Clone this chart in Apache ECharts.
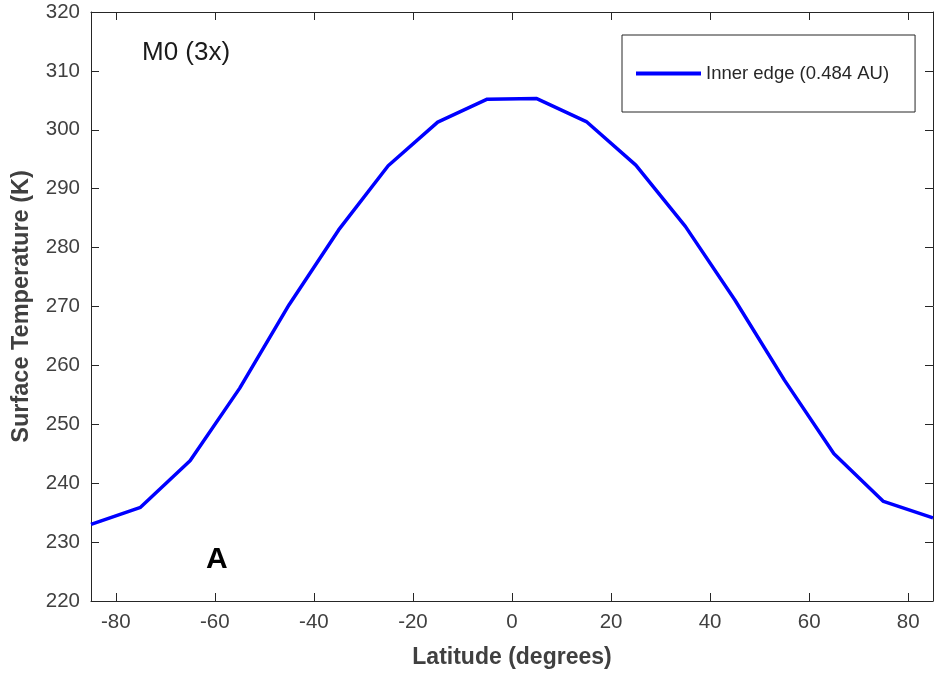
<!DOCTYPE html>
<html>
<head>
<meta charset="utf-8">
<script src="https://cdn.jsdelivr.net/npm/echarts@6/dist/echarts.min.js"></script>
<style>html,body{margin:0;padding:0;background:#fff;}#c{width:935px;height:676px;}</style>
</head>
<body>
<div id="c"></div>
<script>
const latitudes = [-85, -75, -65, -55, -45, -35, -25, -15, -5, 5, 15, 25, 35, 45, 55, 65, 75, 85];
const temperatures = [233.0, 235.9, 243.8, 256.1, 270.3, 283.0, 293.9, 301.3, 305.2, 305.3, 301.4, 294.0, 283.6, 271.1, 257.5, 245.0, 236.9, 234.1];
const xTickValues = [-80, -60, -40, -20, 0, 20, 40, 60, 80];
const seriesName = 'Inner edge (0.484 AU)';

const chart = echarts.init(document.getElementById('c'), null, {renderer: 'canvas'});
const font = 'Liberation Sans, Arial, sans-serif';
const axisColor = '#262626';
const labelColor = '#404040';

const data = latitudes.map((x, i) => [x, temperatures[i]]);

chart.setOption({
  animation: false,
  backgroundColor: '#fff',
  grid: {left: 91, right: 2, top: 12, bottom: 75, containLabel: false},
  xAxis: [{
    type: 'value', min: -85, max: 85, position: 'bottom',
    name: 'Latitude (degrees)', nameLocation: 'middle', nameGap: 45,
    nameTextStyle: {fontFamily: font, fontSize: 23, fontWeight: 'bold', color: labelColor},
    axisLine: {show: true, onZero: false, lineStyle: {color: axisColor, width: 1}},
    axisTick: {show: true, inside: true, length: 8, customValues: xTickValues, lineStyle: {color: axisColor}},
    axisLabel: {customValues: xTickValues, fontFamily: font, fontSize: 20.5, color: labelColor, margin: 11},
    splitLine: {show: false}
  }, {
    type: 'value', min: -85, max: 85, position: 'top',
    axisLine: {show: true, onZero: false, lineStyle: {color: axisColor, width: 1}},
    axisTick: {show: true, inside: true, length: 8, customValues: xTickValues, lineStyle: {color: axisColor}},
    axisLabel: {show: false},
    splitLine: {show: false}
  }],
  yAxis: [{
    type: 'value', min: 220, max: 320, interval: 10, position: 'left',
    name: 'Surface Temperature (K)', nameLocation: 'middle', nameGap: 57, nameRotate: 90,
    nameTextStyle: {fontFamily: font, fontSize: 23.5, fontWeight: 'bold', color: labelColor},
    axisLine: {show: true, onZero: false, lineStyle: {color: axisColor, width: 1}},
    axisTick: {show: true, inside: true, length: 8, lineStyle: {color: axisColor}},
    axisLabel: {fontFamily: font, fontSize: 20.5, color: labelColor, margin: 11},
    splitLine: {show: false}
  }, {
    type: 'value', min: 220, max: 320, interval: 10, position: 'right',
    axisLine: {show: true, onZero: false, lineStyle: {color: axisColor, width: 1}},
    axisTick: {show: true, inside: true, length: 8, lineStyle: {color: axisColor}},
    axisLabel: {show: false},
    splitLine: {show: false}
  }],
  legend: {
    left: 622, top: 35,
    padding: [29, 26, 29, 14],
    borderColor: '#262626', borderWidth: 1, backgroundColor: '#fff',
    itemWidth: 65, itemHeight: 20, itemGap: 5,
    textStyle: {fontFamily: font, fontSize: 18.5, color: '#262626'},
    data: [{name: seriesName, icon: 'path://M0,8 L65,8 L65,12 L0,12 Z'}]
  },
  series: [{
    name: seriesName, type: 'line', data: data,
    xAxisIndex: 0, yAxisIndex: 0,
    symbol: 'none', smooth: false,
    lineStyle: {color: '#0000ff', width: 3.5},
    itemStyle: {color: '#0000ff'}
  }],
  graphic: [
    {type: 'text', style: {x: 142, y: 53, text: 'M0 (3x)', fontFamily: font, fontSize: 26, fill: '#1a1a1a', verticalAlign: 'middle'}},
    {type: 'text', style: {x: 206, y: 560, text: 'A', fontFamily: font, fontSize: 30, fontWeight: 'bold', fill: '#000', verticalAlign: 'middle'}}
  ]
});
</script>
</body>
</html>
